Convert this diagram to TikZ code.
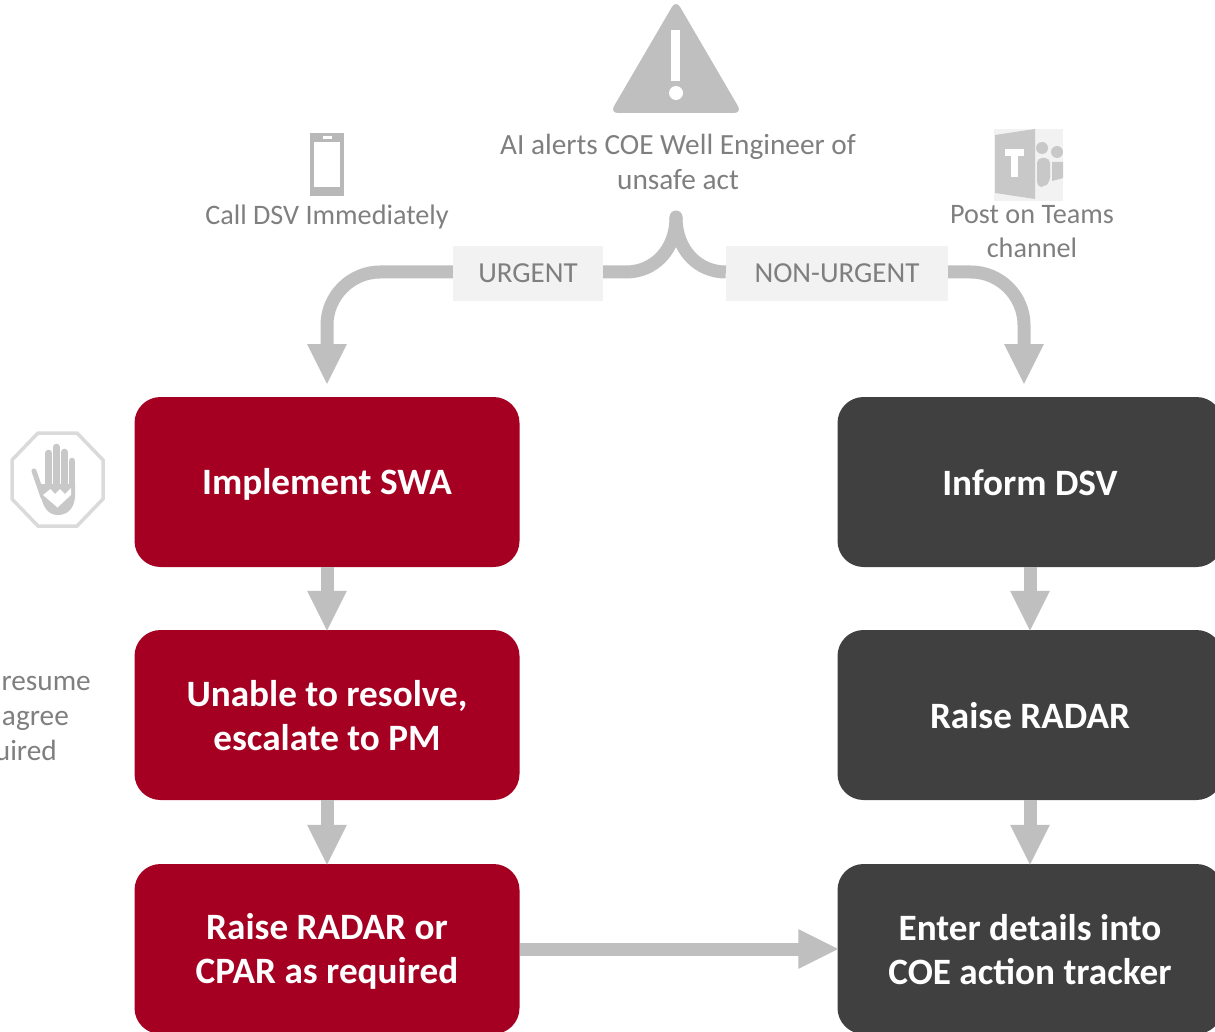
\documentclass[tikz,border=0pt]{standalone}
\usepackage{fontspec}
\setmainfont{Carlito}
\usetikzlibrary{arrows.meta}
\definecolor{redbox}{HTML}{A50021}
\definecolor{darkbox}{HTML}{404040}
\definecolor{flowgray}{HTML}{BFBFBF}
\definecolor{labelfill}{HTML}{F2F2F2}
\definecolor{txtgray}{HTML}{7F7F7F}
\definecolor{icongray}{HTML}{C8C8C8}
\newcommand{\bxs}{\rule[-4pt]{0pt}{34pt}}
\tikzset{
  box/.style={rounded corners=26pt,minimum width=385pt,minimum height=170pt,inner sep=0pt,align=center,text=white,
    font=\fontsize{37.2}{44}\selectfont\bfseries},
  redb/.style={box,fill=redbox},
  darkb/.style={box,fill=darkbox},
  flow/.style={draw=flowgray,line width=13pt,shorten >=-2pt,-{Triangle[length=41pt,width=36.5pt,fill=flowgray]}},
  flowplain/.style={draw=flowgray,line width=13pt},
  tag/.style={fill=labelfill,minimum height=55pt,inner sep=0pt,text=txtgray,font=\fontsize{29}{33}\selectfont},
  note/.style={text=txtgray,inner sep=0pt,align=center,font=\fontsize{29.3}{34.5}\selectfont},
  notesm/.style={note,font=\fontsize{28.2}{34.5}\selectfont},
}
\begin{document}
\begin{tikzpicture}[x=1pt,y=-1pt]
\useasboundingbox (0,0) rectangle (1215,1032);
\clip (0,0) rectangle (1215,1032);

% boxes
\node[redb] (swa) at (327,482) {\bxs Implement SWA};
\node[redb] (esc) at (327,715) {\bxs Unable to resolve,\\\bxs escalate to PM};
\node[redb] (rad) at (327,949) {\bxs Raise RADAR or\\\bxs CPAR as required};
\node[darkb] (dsv) at (1030,482) {\bxs Inform DSV};
\node[darkb] (radar) at (1030,715) {\bxs Raise RADAR};
\node[darkb] (coe) at (1030,949) {\bxs Enter details into\\\bxs COE action tracker};

% tags
\node[tag,minimum width=150pt] (urg) at (528,273.5) {\raisebox{-1pt}{URGENT}};
\node[tag,minimum width=222pt] (non) at (837,273.5) {\raisebox{-1pt}{NON-URGENT}};

% free ends
\coordinate (top) at (676,217);
\coordinate (tipL) at (327,383);
\coordinate (tipR) at (1024,383);

% connectors
\fill[flowgray] (top) circle (6.5);
\draw[flowplain] (top) .. controls (676,250) and (654,272) .. (626,272) -- ([yshift=1.5pt]urg.east);
\draw[flowplain] (top) .. controls (676,250) and (698,272) .. ([yshift=1.5pt]non.west);
\draw[flow] ([yshift=1.5pt]urg.west) -- (380,272) .. controls (351,272) and (327,296) .. (327,325) -- (tipL);
\draw[flow] ([yshift=1.5pt]non.east) -- (971,272) .. controls (1000,272) and (1024,296) .. (1024,325) -- (tipR);
\draw[flow] (swa.south) -- (esc.north);
\draw[flow] (esc.south) -- (rad.north);
\draw[flow] (dsv.south) -- (radar.north);
\draw[flow] (radar.south) -- (coe.north);
\draw[flow] (rad.east) -- (coe.west);

% texts
\node[note] (alert) at (678,162) {AI alerts COE Well Engineer of\\unsafe act};
\node[notesm] (call) at (327,216.5) {Call DSV Immediately};
\node[notesm] (post) at (1032,231.5) {Post on Teams\\channel};
\node[note,anchor=base east] (t1) at (91,690) {resume};
\node[note,anchor=base east] (t2) at (69,725) {agree};
\node[note,anchor=base east] (t3) at (57,760) {uired};

% warning triangle
\fill[flowgray,rounded corners=8pt] (676,0) -- (610,113) -- (742,113) -- cycle;
\fill[white] (671,30) rectangle (680,81);
\fill[white] (676,93) circle (7);

% phone
\fill[icongray!92!black] (310,133) rectangle (344,196);
\fill[white] (314,142) rectangle (340,187);
\fill[white] (323,136) rectangle (332,139);

% teams
\fill[labelfill] (994,129) rectangle (1063,201);
\fill[icongray] (995,135) -- (1035,129) -- (1035,199) -- (995,193) -- cycle;
\fill[white] (1005,149) rectangle (1024,156);
\fill[white] (1011,156) rectangle (1018,177);
\fill[icongray] (1042,148) circle (6);
\fill[icongray] (1057,152) circle (6);
\fill[icongray,rounded corners=5pt] (1037,158) -- (1050,158) -- (1050,182) -- (1044,187) -- (1037,187) -- cycle;
\fill[icongray] (1052,162) -- (1063,162) -- (1063,178) -- (1052,181) -- cycle;

% stop hand
\draw[draw=labelfill!90!black,line width=3.5pt]
  (38,433) -- (77,433) -- (103,460) -- (103,499) -- (77,526) -- (38,526) -- (12,499) -- (12,460) -- cycle;
\begin{scope}[icongray,line width=6.6pt,line cap=round]
\draw (48.7,453) -- (48.7,495);
\draw (56.7,447) -- (56.7,495);
\draw (64.3,452) -- (64.3,495);
\draw (72,461) -- (72,497);
\draw[line width=5pt] (34,471) -- (43,497);
\end{scope}
\fill[icongray] (41,484) -- (75,484) -- (75,497) .. controls (74,510) and (66,515) .. (58,515)
  .. controls (50,515) and (44,510) .. (41,497) -- cycle;
\fill[white] (43,495) -- (50.5,489) -- (55,494) -- (60,489) -- (65,494) -- (71,488) -- (71,495) -- (57.5,507.5) -- cycle;
\end{tikzpicture}
\end{document}
